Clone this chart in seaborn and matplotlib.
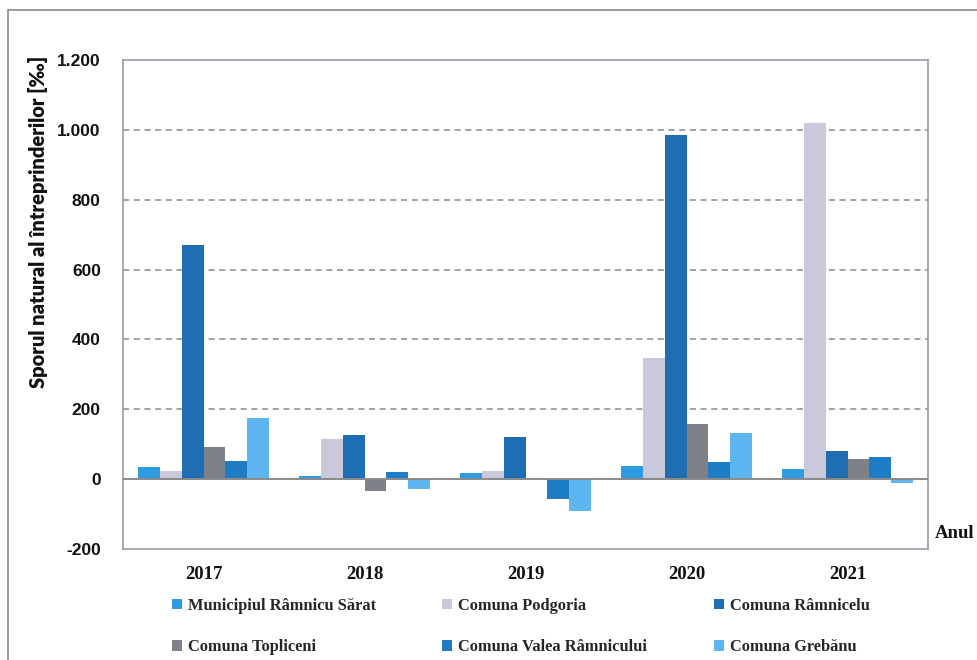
import matplotlib
matplotlib.use("Agg")
import matplotlib.pyplot as plt
import seaborn as sns
import pandas as pd
from matplotlib.ticker import FuncFormatter
from matplotlib.patches import Rectangle, Patch

years = ["2017", "2018", "2019", "2020", "2021"]
municipiul = [34, 8, 17, 37, 30]
podgoria = [23, 116, 23, 348, 1020]
ramnicelu = [671, 127, 120, 986, 80]
topliceni = [92, -33, 0, 158, 59]
valea = [51, 20, -56, 50, 63]
grebanu = [175, -28, -92, 132, -11]

series_names = ["Municipiul Râmnicu Sărat", "Comuna Podgoria", "Comuna Râmnicelu",
                "Comuna Topliceni", "Comuna Valea Râmnicului", "Comuna Grebănu"]
series_values = [municipiul, podgoria, ramnicelu, topliceni, valea, grebanu]
colors = ["#2F9BE2", "#C9C9DB", "#1F6DB3", "#7E8288", "#1E7CC5", "#5DB6F0"]

rows = []
for name, vals in zip(series_names, series_values):
    for y, v in zip(years, vals):
        rows.append({"Anul": y, "Serie": name, "Valoare": v})
df = pd.DataFrame(rows)

sns.set_theme(style="white")
fig = plt.figure(figsize=(9.78, 6.6), dpi=100)
ax = fig.add_axes([123/978, 1-549/660, (928-123)/978, (549-60)/660])

sns.barplot(data=df, x="Anul", y="Valoare", hue="Serie", hue_order=series_names,
            palette=colors, width=0.81, gap=0, ax=ax, legend=False,
            edgecolor="none", linewidth=0, saturation=1)

ax.set_ylim(-200, 1200)
ax.set_yticks(range(-200, 1201, 200))
ax.yaxis.set_major_formatter(FuncFormatter(lambda v, p: f"{int(v):,}".replace(",", ".")))
for yv in range(200, 1001, 200):
    ax.axhline(yv, color="#8a8a8a", lw=1.1, ls=(0, (4, 3)), zorder=0)
ax.axhline(0, color="#8a8a8a", lw=1.4, zorder=3)

for s in ax.spines.values():
    s.set_color("#9a9aaa")
    s.set_linewidth(1.2)
ax.tick_params(length=0)
ax.set_xlabel("")
ax.set_ylabel("Sporul natural al întreprinderilor [‰]", fontfamily="Lato",
              fontweight="heavy", fontsize=14.5, color="#111111")
ax.yaxis.set_label_coords((48 - 123) / 805, (549 - 222) / 489)
for lbl in ax.get_yticklabels():
    lbl.set_fontfamily("Liberation Sans")
    lbl.set_fontweight("bold")
    lbl.set_fontsize(12.5)
    lbl.set_color("#111111")
for lbl in ax.get_xticklabels():
    lbl.set_fontfamily("Liberation Serif")
    lbl.set_fontweight("bold")
    lbl.set_fontsize(13.5)
    lbl.set_color("#111111")
ax.tick_params(axis="x", pad=12)
ax.tick_params(axis="y", pad=16)

fig.text(935/978, 1-533/660, "Anul", fontfamily="Liberation Serif", fontweight="bold",
         fontsize=13.5, va="center", ha="left", color="#111111")

handles = [Patch(facecolor=c, edgecolor="none") for c in colors]
col_x = [172, 442, 714]
for ci in range(3):
    idx = [ci, ci + 3]
    leg = fig.legend([handles[i] for i in idx], [series_names[i] for i in idx],
                     ncol=1, loc="upper left",
                     bbox_to_anchor=(col_x[ci] / 978, 1 - 598 / 660),
                     frameon=False, borderpad=0, borderaxespad=0,
                     prop={"family": "Liberation Serif", "weight": "bold", "size": 11.8},
                     handlelength=0.6, handleheight=0.6, handletextpad=0.4,
                     labelspacing=1.55)

fig.patches.append(Rectangle((8/978, -0.05), 1.2, 1 - 10/660 + 0.05,
                             transform=fig.transFigure, fill=False,
                             edgecolor="#8a8a8a", lw=1.2))

fig.savefig("out.png", dpi=100)
